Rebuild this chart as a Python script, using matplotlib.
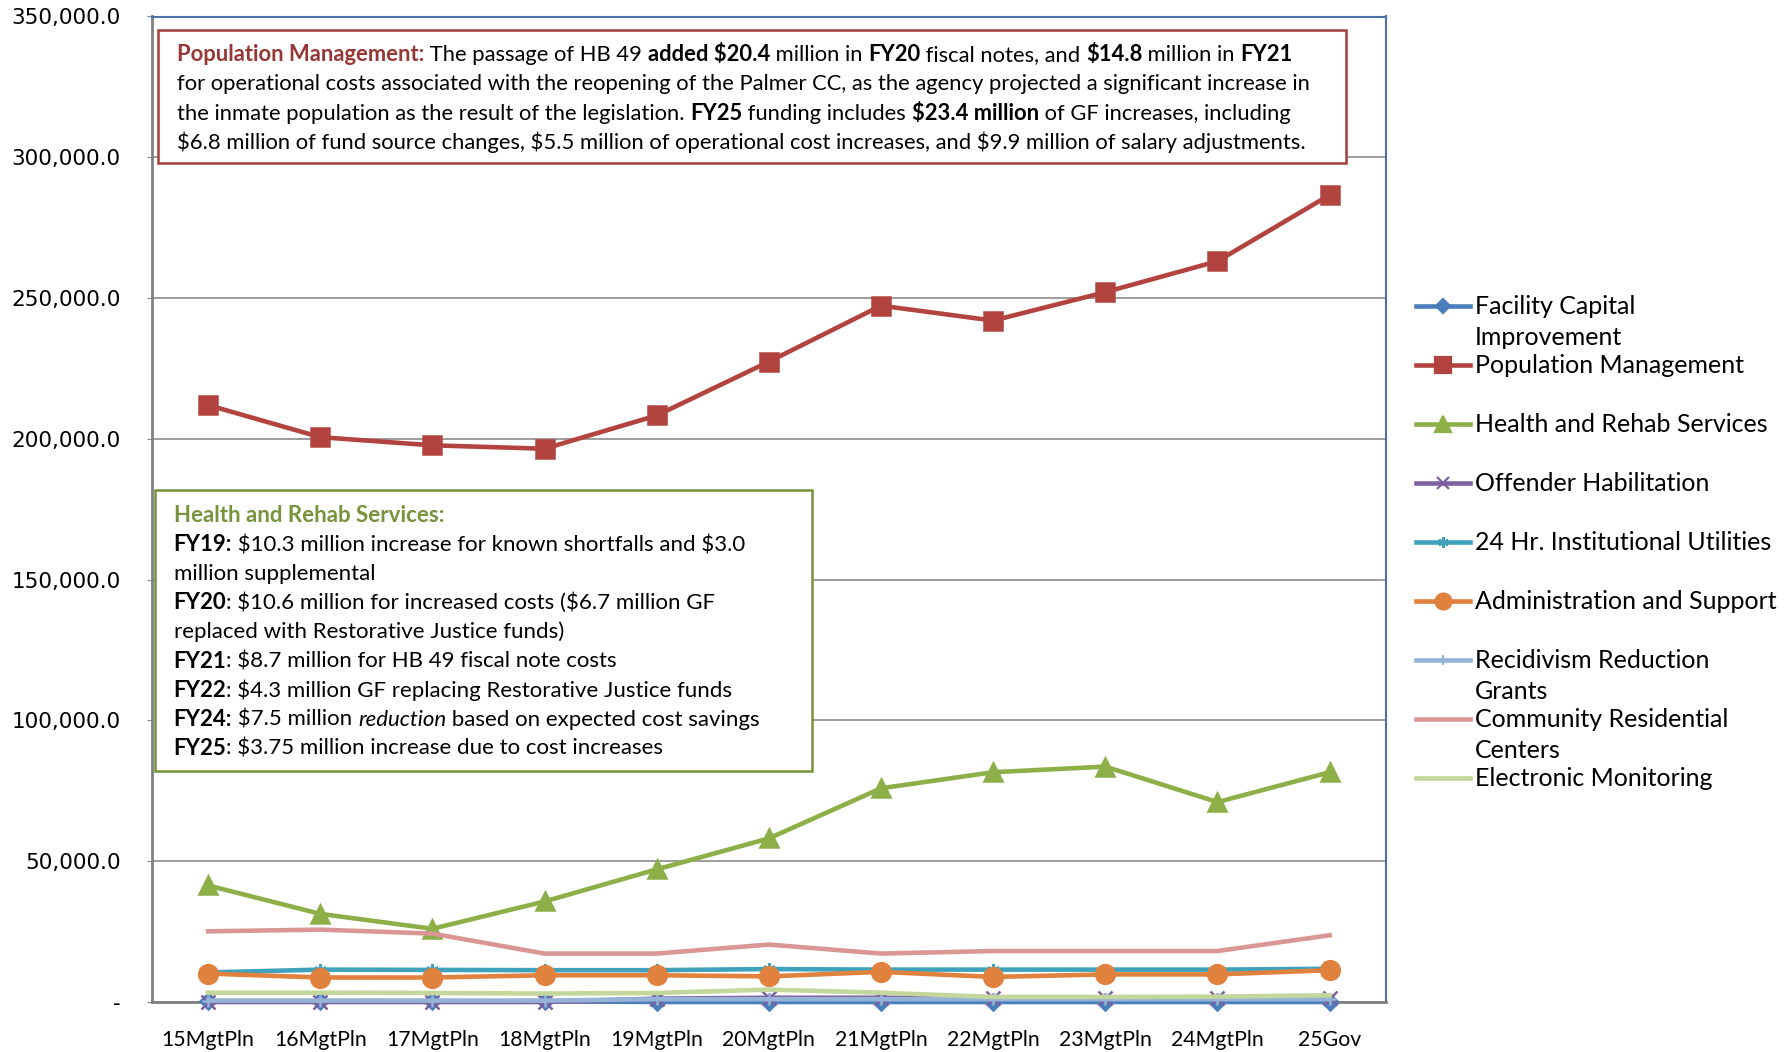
import matplotlib as mpl, numpy as np
import matplotlib.pyplot as plt
from matplotlib.lines import Line2D
from matplotlib.patches import Rectangle
from matplotlib.ticker import FuncFormatter

# Category labels
years = ['15MgtPln', '16MgtPln', '17MgtPln', '18MgtPln', '19MgtPln', '20MgtPln',
         '21MgtPln', '22MgtPln', '23MgtPln', '24MgtPln', '25Gov']

# Series values
facility = [300, 300, 300, 300, 0, 0, 0, 0, 0, 0, 0]
population = [212000, 200600, 197700, 196500, 208300, 227400, 247300, 242000, 252100, 263100, 286600]
health = [41400, 31300, 26000, 35700, 47100, 58100, 75900, 81600, 83600, 71000, 81600]
offender = [0, 0, 0, 0, 1200, 1500, 1500, 1300, 1300, 1300, 1300]
utilities = [10500, 11500, 11400, 11300, 11300, 11700, 11500, 11500, 11500, 11500, 11800]
admin = [10100, 8700, 8700, 9500, 9500, 9100, 10700, 8900, 9800, 9800, 11300]
recidivism = [500, 500, 500, 500, 1000, 1000, 1000, 1000, 1000, 1000, 1000]
community = [25100, 25700, 24300, 17200, 17200, 20400, 17200, 18100, 18100, 18100, 23700]
electronic = [3300, 3300, 3200, 3000, 3200, 4400, 3300, 1800, 1800, 1900, 2400]

series_names = ['Facility Capital\nImprovement', 'Population Management', 'Health and Rehab Services',
                'Offender Habilitation', '24 Hr. Institutional Utilities', 'Administration and Support',
                'Recidivism Reduction\nGrants', 'Community Residential\nCenters', 'Electronic Monitoring']
series_vals = [facility, population, health, offender, utilities, admin, recidivism, community, electronic]
colors = ['#4A7EBB', '#B3433F', '#8CAF48', '#7D60A0', '#3FA2BD', '#E0823D', '#95B3D7', '#D99694', '#C3D69B']
markers = ['D', 's', '^', 'x', (6, 2, 0), 'o', '+', None, None]
msizes = [8, 13.5, 13.5, 10, 9, 13.5, 9, 0, 0]

W, H = 1791, 1052
body_font = 'Lato'
fig = plt.figure(figsize=(W / 100, H / 100), dpi=100)
ax = fig.add_axes([152 / W, 1 - 1002 / H, (1385.7 - 152) / W, (1002 - 16.5) / H])

x = np.arange(len(years))
for vals, c, m, ms in zip(series_vals, colors, markers, msizes):
    ax.plot(x, vals, color=c, lw=3.3, marker=m, markersize=ms, markeredgewidth=1.8,
            clip_on=False, zorder=3)

ax.set_xlim(-0.5, len(years) - 0.5)
ax.set_ylim(0, 350000)
ax.set_yticks(np.arange(0, 350001, 50000))
ax.yaxis.set_major_formatter(FuncFormatter(lambda v, p: '-' if v == 0 else f'{v:,.1f}'))
ax.set_xticks(x)
ax.set_xticklabels(years, fontsize=15.3, family=body_font)
ax.tick_params(axis='x', length=0, pad=20.5)
ax.tick_params(axis='y', length=3.5, color='#868686', labelsize=15.5, pad=19)
ax.grid(axis='y', color='#8c8c8c', lw=1.2)
ax.set_axisbelow(True)
for s in ['left', 'bottom']:
    ax.spines[s].set_color('#808080')
    ax.spines[s].set_linewidth(2)
for s in ['top', 'right']:
    ax.spines[s].set_color('#4A72A8')
    ax.spines[s].set_linewidth(1.5)

# Legend drawn by hand, Excel style (handle on first text line)
for i, (name, c, m, ms) in enumerate(zip(series_names, colors, markers, msizes)):
    yy = 1 - (306 + i * 59) / H
    fig.add_artist(Line2D([1416 / W, 1443 / W, 1470 / W], [yy, yy, yy], color=c, lw=3.3,
                          marker=m, markersize=ms * 0.85, markeredgewidth=1.6, markevery=[1]))
    for j, part in enumerate(name.split('\n')):
        fig.text(1475 / W, yy - (8 + 31 * j) / H, part, fontsize=18, family=body_font,
                 va='baseline')

# Rich-text annotation boxes
fig.canvas.draw()
renderer = fig.canvas.get_renderer()


def seg_width(txt, **kw):
    a = fig.text(0, 0, '|' + txt + '|', parse_math=False, **kw)
    b = fig.text(0, 0, '||', parse_math=False, **kw)
    w = a.get_window_extent(renderer).width - b.get_window_extent(renderer).width
    a.remove()
    b.remove()
    return w


def rich_line(x0, ybase, parts, size):
    xx = x0
    for txt, style in parts:
        kw = dict(fontsize=size, family=body_font, color=style.get('color', 'black'),
                  weight=style.get('weight', 'normal'), style=style.get('style', 'normal'))
        fig.text(xx / W, 1 - ybase / H, txt, va='baseline', ha='left', parse_math=False, zorder=6, **kw)
        xx += seg_width(txt, **kw)


N = {}
B = {'weight': 'bold'}
I = {'style': 'italic'}

fig.add_artist(Rectangle((157.6 / W, 1 - 163.3 / H), (1345.5 - 157.6) / W, (163.3 - 29.7) / H,
                         transform=fig.transFigure, facecolor='white', edgecolor='#A33E3B',
                         lw=1.8, zorder=5))
pop_lines = [
    [('Population Management:', {'weight': 'bold', 'color': '#953735'}), (' The passage of HB 49 ', N),
     ('added $20.4', B), (' million in ', N), ('FY20', B), (' fiscal notes, and ', N), ('$14.8', B),
     (' million in ', N), ('FY21', B)],
    [('for operational costs associated with the reopening of the Palmer CC, as the agency projected a significant increase in', N)],
    [('the inmate population as the result of the legislation. ', N), ('FY25', B), (' funding includes ', N),
     ('$23.4 million', B), (' of GF increases, including', N)],
    [('$6.8 million of fund source changes, $5.5 million of operational cost increases, and $9.9 million of salary adjustments.', N)],
]
for k, parts in enumerate(pop_lines):
    rich_line(177, 61 + k * 29.3, parts, 15.8)

fig.add_artist(Rectangle((155 / W, 1 - 771 / H), (812 - 155) / W, (771 - 490) / H,
                         transform=fig.transFigure, facecolor='white', edgecolor='#77933C',
                         lw=1.8, zorder=5))
health_lines = [
    [('Health and Rehab Services:', {'weight': 'bold', 'color': '#77933C'})],
    [('FY19:', B), (' $10.3 million increase for known shortfalls and $3.0', N)],
    [('million supplemental', N)],
    [('FY20', B), (': $10.6 million for increased costs ($6.7 million GF', N)],
    [('replaced with Restorative Justice funds)', N)],
    [('FY21', B), (': $8.7 million for HB 49 fiscal note costs', N)],
    [('FY22', B), (': $4.3 million GF replacing Restorative Justice funds', N)],
    [('FY24:', B), (' $7.5 million ', N), ('reduction', I), (' based on expected cost savings', N)],
    [('FY25', B), (': $3.75 million increase due to cost increases', N)],
]
for k, parts in enumerate(health_lines):
    rich_line(173.6, 522 + k * 29.1, parts, 16.0)

fig.savefig('out.png', dpi=100)
